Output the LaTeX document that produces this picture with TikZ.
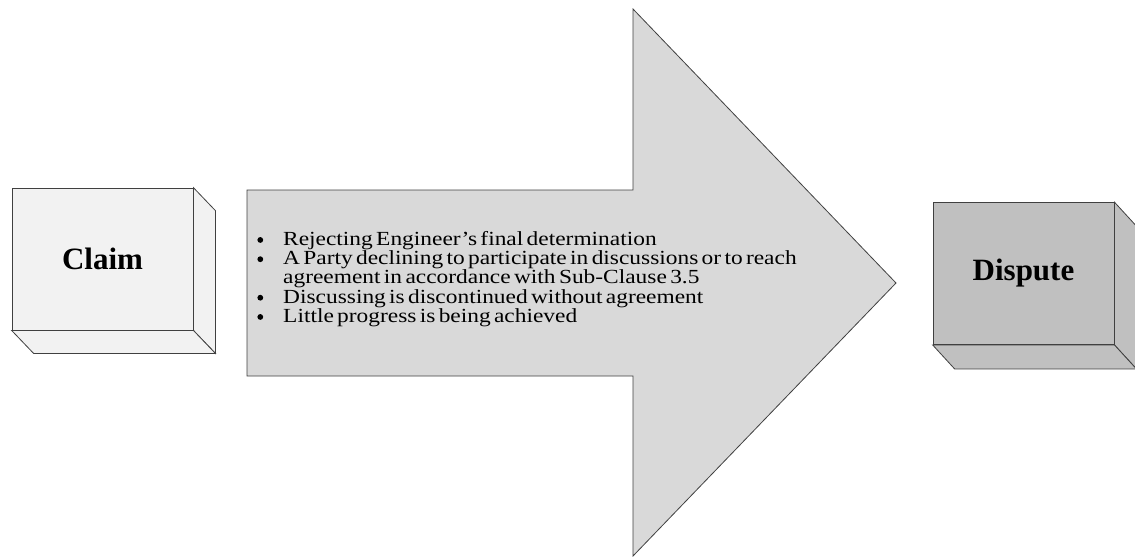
\documentclass[tikz,border=0pt]{standalone}
\usepackage{fontspec}
\setmainfont{Liberation Serif}
\newfontfamily\listfont[FakeStretch=1.17, WordSpace=1.4]{Liberation Serif}
\definecolor{edge}{HTML}{404040}
\definecolor{claimfill}{HTML}{F2F2F2}
\definecolor{arrowfill}{HTML}{D9D9D9}
\definecolor{disputefill}{HTML}{C0C0C0}
\tikzset{
  face/.style={draw=edge, line width=0.8pt, line join=miter},
  boxfront/.style={face, minimum width=181pt, minimum height=142pt, inner sep=0pt,
    font=\fontsize{31}{36}\selectfont\bfseries},
}
\newcommand{\cuboid}[3]{% node name, depth x, depth y
  \filldraw[face, fill=#1fill] (#1.north east) -- ++(#2,#3) -- ++(0,142) -- ([shift={(#2,#3)}]#1.south east) -- (#1.south east) -- cycle;
  \filldraw[face, fill=#1fill] (#1.south west) -- (#1.south east) -- ++(#2,#3) -- ([shift={(#2,#3)}]#1.south west) -- cycle;
}
% round list marker drawn as a filled dot
\newcommand{\listdot}{\tikz[x=1pt, y=1pt, baseline=-5.5pt]\fill[black] (0,0) circle[radius=2.9pt];}
\begin{document}
\begin{tikzpicture}[x=1pt, y=-1pt]
\useasboundingbox (0,0) rectangle (1135,557);

% the block arrow between the two boxes
\coordinate (tailtop) at (247,190);
\coordinate (tip) at (896,283);
\filldraw[face, fill=arrowfill] (tailtop) -- (633,190) -- (633,9) -- (tip)
  -- (633,556) -- (633,376) -- (247,376) -- cycle;

% the two cuboids
\node[boxfront, fill=claimfill] (claim) at (102.5,259) {};
\cuboid{claim}{22}{23}
\node[boxfront, fill=claimfill] at (claim) {Claim};

\node[boxfront, fill=disputefill] (dispute) at (1023.5,273.5) {};
\cuboid{dispute}{22}{24}
\node[boxfront, fill=disputefill] at (dispute) {Dispute};

% conditions written on the arrow
\node[anchor=north west, inner sep=0pt, text width=580pt, align=left] (reasons) at (253,226) {%
  \listfont\fontsize{20}{19.25}\selectfont\lineskiplimit=-100pt
  \begin{list}{\listdot}{%
      \setlength{\leftmargin}{30pt}\setlength{\labelwidth}{20pt}%
      \setlength{\labelsep}{20pt}\setlength{\itemsep}{0pt}%
      \setlength{\parsep}{0pt}\setlength{\topsep}{0pt}\setlength{\partopsep}{0pt}}
    \item Rejecting Engineer’s final determination
    \item A Party declining to participate in discussions or to reach\newline
          agreement in accordance with Sub-Clause 3.5
    \item Discussing is discontinued without agreement
    \item Little progress is being achieved
  \end{list}};
\end{tikzpicture}
\end{document}
